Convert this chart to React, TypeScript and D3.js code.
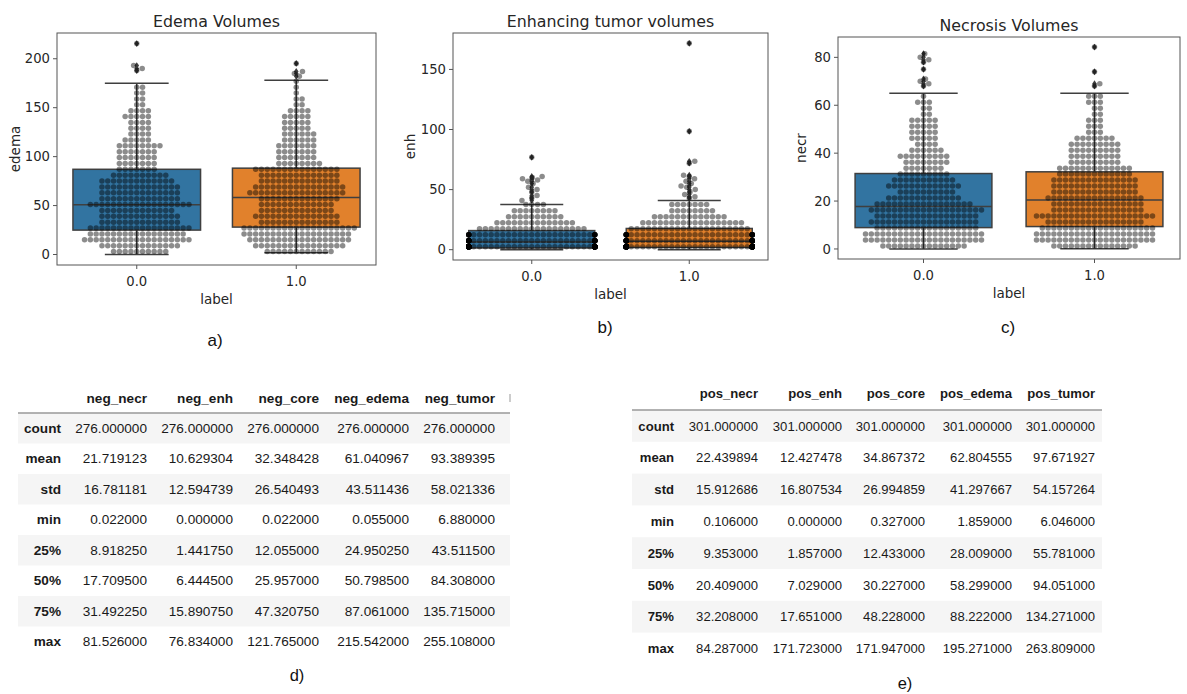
import { useMemo } from "react";
import * as d3 from "d3";

const W = 1187;
const H = 694;

const groups = ["0.0", "1.0"];

// describe() tables
const statRows = ["count", "mean", "std", "min", "25%", "50%", "75%", "max"];
const negColumns = ["neg_necr", "neg_enh", "neg_core", "neg_edema", "neg_tumor"];
const posColumns = ["pos_necr", "pos_enh", "pos_core", "pos_edema", "pos_tumor"];
const negStats = [
  [276, 276, 276, 276, 276],
  [21.719123, 10.629304, 32.348428, 61.040967, 93.389395],
  [16.781181, 12.594739, 26.540493, 43.511436, 58.021336],
  [0.022, 0.0, 0.022, 0.055, 6.88],
  [8.91825, 1.44175, 12.055, 24.95025, 43.5115],
  [17.7095, 6.4445, 25.957, 50.7985, 84.308],
  [31.49225, 15.89075, 47.32075, 87.061, 135.715],
  [81.526, 76.834, 121.765, 215.542, 255.108],
];
const posStats = [
  [301, 301, 301, 301, 301],
  [22.439894, 12.427478, 34.867372, 62.804555, 97.671927],
  [15.912686, 16.807534, 26.994859, 41.297667, 54.157264],
  [0.106, 0.0, 0.327, 1.859, 6.046],
  [9.353, 1.857, 12.433, 28.009, 55.781],
  [20.409, 7.029, 30.227, 58.299, 94.051],
  [32.208, 17.651, 48.228, 88.222, 134.271],
  [84.287, 171.723, 171.947, 195.271, 263.809],
];

// swarm points, as counts per value row
const edemaBins = [3, 9, 15, 21, 27, 33, 39, 45, 51, 57, 63, 69, 75, 81, 87, 93, 99, 105, 111, 117, 123, 129, 135, 141, 147, 153, 159, 165, 171, 177];
const edemaNegCounts = [10, 14, 19, 17, 18, 14, 14, 13, 18, 14, 14, 14, 13, 10, 7, 7, 7, 7, 8, 5, 4, 4, 4, 5, 4, 2, 2, 2, 2, 0];
const edemaPosCounts = [12, 16, 18, 19, 20, 14, 15, 13, 13, 14, 17, 16, 14, 14, 15, 8, 7, 7, 7, 6, 6, 5, 5, 5, 4, 2, 2, 1, 1, 1];
const edemaNegOutliers = [188, 190, 193, 215.542];
const edemaPosOutliers = [182, 185, 187, 195.271];
const edemaWhiskerHigh = [175, 178];
const edemaTicks = [0, 50, 100, 150, 200];

const enhBins = [2.5, 7.5, 12.5, 17.5, 22.5, 27.5, 32.5, 37.5];
const enhNegCounts = [124, 50, 34, 19, 14, 10, 8, 4];
const enhPosCounts = [130, 50, 38, 21, 18, 13, 8, 7];
const enhNegOutliers = [41, 43, 45, 48, 50, 52, 55, 57, 58, 59, 60, 61, 76.834];
const enhPosOutliers = [43, 44, 46, 48, 50, 52, 53, 55, 57, 59, 61, 62, 72, 73.5, 98.5, 171.723];
const enhWhiskerHigh = [37.5, 41];
const enhTicks = [0, 50, 100, 150];

const necrBins = [1.25, 3.75, 6.25, 8.75, 11.25, 13.75, 16.25, 18.75, 21.25, 23.75, 26.25, 28.75, 31.25, 33.75, 36.25, 38.75, 41.25, 43.75, 46.25, 48.75, 51.25, 53.75, 56.25, 58.75, 61.25, 63.75];
const necrNegCounts = [15, 21, 21, 18, 19, 18, 20, 17, 13, 10, 13, 11, 9, 7, 8, 9, 6, 4, 5, 5, 5, 5, 2, 2, 3, 1];
const necrPosCounts = [15, 21, 21, 20, 17, 21, 16, 16, 17, 15, 15, 15, 13, 13, 9, 9, 9, 9, 7, 3, 3, 3, 2, 2, 3, 3];
const necrNegOutliers = [68, 69, 70, 71, 75, 78, 79, 80, 81.526];
const necrPosOutliers = [68, 69, 74, 84.287];
const necrWhiskerHigh = [65, 65];
const necrTicks = [0, 20, 40, 60, 80];

const boxColors = ["#3274a1", "#e1812c"];
const LINE = "#3f3f3f";
const TXT = "#262626";
const PLOT_FONT = "DejaVu Sans, sans-serif";
const TABLE_FONT = "Liberation Sans, Arial, sans-serif";
const DOT_D = 5.8;

const panels = [
  {
    title: "Edema Volumes", ylabel: "edema", col: 3, sub: "a)",
    frame: { x0: 57, x1: 376, y0: 33, y1: 265 }, ylabelX: 15, subPos: [215, 340],
    bins: edemaBins, counts: [edemaNegCounts, edemaPosCounts],
    outliers: [edemaNegOutliers, edemaPosOutliers], whiskerHigh: edemaWhiskerHigh, ticks: edemaTicks,
  },
  {
    title: "Enhancing tumor volumes", ylabel: "enh", col: 1, sub: "b)",
    frame: { x0: 453, x1: 768, y0: 33, y1: 260 }, ylabelX: 410, subPos: [605, 327],
    bins: enhBins, counts: [enhNegCounts, enhPosCounts],
    outliers: [enhNegOutliers, enhPosOutliers], whiskerHigh: enhWhiskerHigh, ticks: enhTicks,
  },
  {
    title: "Necrosis Volumes", ylabel: "necr", col: 0, sub: "c)",
    frame: { x0: 838, x1: 1180, y0: 37, y1: 259 }, ylabelX: 801, subPos: [1008, 327],
    bins: necrBins, counts: [necrNegCounts, necrPosCounts],
    outliers: [necrNegOutliers, necrPosOutliers], whiskerHigh: necrWhiskerHigh, ticks: necrTicks,
  },
];

// seaborn-like beeswarm: closest free spot to the centre line
function swarmOffsets(ys: number[], d: number): number[] {
  const order = ys.map((_, i) => i).sort((a, b) => ys[b] - ys[a]);
  const px: number[] = [];
  const py: number[] = [];
  const out = new Array(ys.length).fill(0);
  for (const i of order) {
    const y = ys[i];
    const nx: number[] = [];
    const ny: number[] = [];
    for (let k = 0; k < py.length; k++) {
      if (Math.abs(py[k] - y) < d) {
        nx.push(px[k]);
        ny.push(py[k]);
      }
    }
    const cands = [0];
    for (let k = 0; k < nx.length; k++) {
      const dx = Math.sqrt(d * d - (ny[k] - y) ** 2);
      cands.push(nx[k] + dx, nx[k] - dx);
    }
    cands.sort((a, b) => Math.abs(a) - Math.abs(b));
    let best = cands[0];
    for (const c of cands) {
      let ok = true;
      for (let k = 0; k < nx.length; k++) {
        if ((nx[k] - c) ** 2 + (ny[k] - y) ** 2 < d * d - 1e-6) {
          ok = false;
          break;
        }
      }
      if (ok) {
        best = c;
        break;
      }
    }
    out[i] = best;
    px.push(best);
    py.push(y);
  }
  return out;
}

const BoxSwarm = ({ p }: { p: (typeof panels)[number] }) => {
  const { frame, col } = p;
  const stats = [negStats, posStats];
  const lo = d3.min(stats, (s) => s[3][col]) as number;
  const hi = d3.max(stats, (s) => s[7][col]) as number;
  const pad = (hi - lo) * 0.05;

  const x = d3.scaleBand().domain(groups).range([frame.x0, frame.x1]);
  const y = d3.scaleLinear().domain([lo - pad, hi + pad]).range([frame.y1, frame.y0]);
  const bw = x.bandwidth() * 0.8;

  const swarms = useMemo(
    () =>
      groups.map((g, gi) => {
        const vals: number[] = [];
        p.bins.forEach((b, i) => {
          for (let k = 0; k < p.counts[gi][i]; k++) vals.push(b);
        });
        vals.push(...p.outliers[gi]);
        const ys = vals.map((v) => y(v));
        const offs = swarmOffsets(ys, DOT_D);
        const cx = (x(g) as number) + x.bandwidth() / 2;
        return ys.map((yy, i) => ({ x: cx + Math.max(-bw / 2, Math.min(bw / 2, offs[i])), y: yy }));
      }),
    [p]
  );

  const fx = (frame.x0 + frame.x1) / 2;
  const fy = (frame.y0 + frame.y1) / 2;

  return (
    <g>
      <rect x={frame.x0} y={frame.y0} width={frame.x1 - frame.x0} height={frame.y1 - frame.y0} fill="#fff" />
      {groups.map((g, gi) => {
        const s = stats[gi];
        const cx = (x(g) as number) + x.bandwidth() / 2;
        const q1 = y(s[4][col]);
        const med = y(s[5][col]);
        const q3 = y(s[6][col]);
        const wLo = y(s[3][col]);
        const wHi = y(p.whiskerHigh[gi]);
        return (
          <g key={g} stroke={LINE} strokeWidth={1.5}>
            <rect x={cx - bw / 2} y={q3} width={bw} height={q1 - q3} fill={boxColors[gi]} />
            <line x1={cx} x2={cx} y1={q1} y2={wLo} />
            <line x1={cx} x2={cx} y1={q3} y2={wHi} />
            <line x1={cx - bw / 4} x2={cx + bw / 4} y1={wLo} y2={wLo} />
            <line x1={cx - bw / 4} x2={cx + bw / 4} y1={wHi} y2={wHi} />
            <line x1={cx - bw / 2} x2={cx + bw / 2} y1={med} y2={med} />
            {p.outliers[gi].map((v, i) => {
              const yy = y(v);
              return (
                <path
                  key={i}
                  d={`M${cx},${yy - 3.4}L${cx + 2.3},${yy}L${cx},${yy + 3.4}L${cx - 2.3},${yy}Z`}
                  fill={LINE}
                  stroke="none"
                />
              );
            })}
          </g>
        );
      })}
      {swarms.map((pts, gi) =>
        pts.map((d, i) => <circle key={`${gi}-${i}`} cx={d.x} cy={d.y} r={2.75} fill="#000" fillOpacity={0.45} />)
      )}
      <rect
        x={frame.x0}
        y={frame.y0}
        width={frame.x1 - frame.x0}
        height={frame.y1 - frame.y0}
        fill="none"
        stroke="#555"
        strokeWidth={1}
      />
      {p.ticks.map((t) => (
        <g key={t}>
          <line x1={frame.x0 - 4} x2={frame.x0} y1={y(t)} y2={y(t)} stroke="#555" />
          <text x={frame.x0 - 7} y={y(t) + 4.7} textAnchor="end" fontSize={13.2} fontFamily={PLOT_FONT} fill={TXT}>
            {t}
          </text>
        </g>
      ))}
      {groups.map((g) => {
        const cx = (x(g) as number) + x.bandwidth() / 2;
        return (
          <g key={g}>
            <line x1={cx} x2={cx} y1={frame.y1} y2={frame.y1 + 4} stroke="#555" />
            <text x={cx} y={frame.y1 + 20.5} textAnchor="middle" fontSize={13.2} fontFamily={PLOT_FONT} fill={TXT}>
              {g}
            </text>
          </g>
        );
      })}
      <text x={fx} y={frame.y1 + 38.5} textAnchor="middle" fontSize={13.5} fontFamily={PLOT_FONT} fill={TXT}>
        label
      </text>
      <text
        transform={`translate(${p.ylabelX + 4.5},${fy}) rotate(-90)`}
        textAnchor="middle"
        fontSize={13.5}
        fontFamily={PLOT_FONT}
        fill={TXT}
      >
        {p.ylabel}
      </text>
      <text x={fx} y={frame.y0 - 6} textAnchor="middle" fontSize={15.8} fontFamily={PLOT_FONT} fill={TXT}>
        {p.title}
      </text>
      <text x={p.subPos[0]} y={p.subPos[1] + 6} textAnchor="middle" fontSize={17} fontFamily={TABLE_FONT} fill="#111">
        {p.sub}
      </text>
    </g>
  );
};

const StatTable = ({ columns, stats, x0, x1, headerY, lineY, rowH, colRight, fontSize, sub, subPos, mark }) => (
  <g fontFamily={TABLE_FONT} fontSize={fontSize} fill="#1a1a1a">
    {statRows.map((r, i) =>
      i % 2 === 0 ? <rect key={r} x={x0} y={lineY + i * rowH} width={x1 - x0} height={rowH} fill="#f5f5f5" /> : null
    )}
    <line x1={x0} x2={x1} y1={lineY} y2={lineY} stroke="#999" strokeWidth={1.6} />
    {mark ? <line x1={x1} x2={x1} y1={headerY - 4} y2={headerY + 4} stroke="#aaa" strokeWidth={1.2} /> : null}
    {columns.map((c, j) => (
      <text key={c} x={colRight[j + 1]} y={headerY + 4.7} textAnchor="end" fontWeight="bold">
        {c}
      </text>
    ))}
    {statRows.map((r, i) => (
      <g key={r}>
        <text x={colRight[0]} y={lineY + (i + 0.5) * rowH + 4.7} textAnchor="end" fontWeight="bold">
          {r}
        </text>
        {stats[i].map((v, j) => (
          <text key={j} x={colRight[j + 1]} y={lineY + (i + 0.5) * rowH + 4.7} textAnchor="end">
            {v.toFixed(6)}
          </text>
        ))}
      </g>
    ))}
    <text x={subPos[0]} y={subPos[1]} textAnchor="middle" fontSize={16.5} fill="#111">
      {sub}
    </text>
  </g>
);

export default function App() {
  return (
    <div style={{ position: "absolute", left: 0, top: 0 }}>
      <svg width={W} height={H} style={{ display: "block", background: "#fff" }}>
        {panels.map((p) => (
          <BoxSwarm key={p.title} p={p} />
        ))}
        <StatTable
          columns={negColumns}
          stats={negStats}
          x0={18}
          x1={510}
          headerY={398}
          lineY={413}
          rowH={30.5}
          colRight={[61, 147, 233, 319, 409, 495]}
          fontSize={13.6}
          sub="d)"
          subPos={[297, 681]}
          mark
        />
        <StatTable
          columns={posColumns}
          stats={posStats}
          x0={632}
          x1={1102}
          headerY={393}
          lineY={410}
          rowH={31.8}
          colRight={[674, 758, 842, 925, 1012, 1095]}
          fontSize={13.1}
          sub="e)"
          subPos={[905, 689]}
          mark={false}
        />
      </svg>
    </div>
  );
}
